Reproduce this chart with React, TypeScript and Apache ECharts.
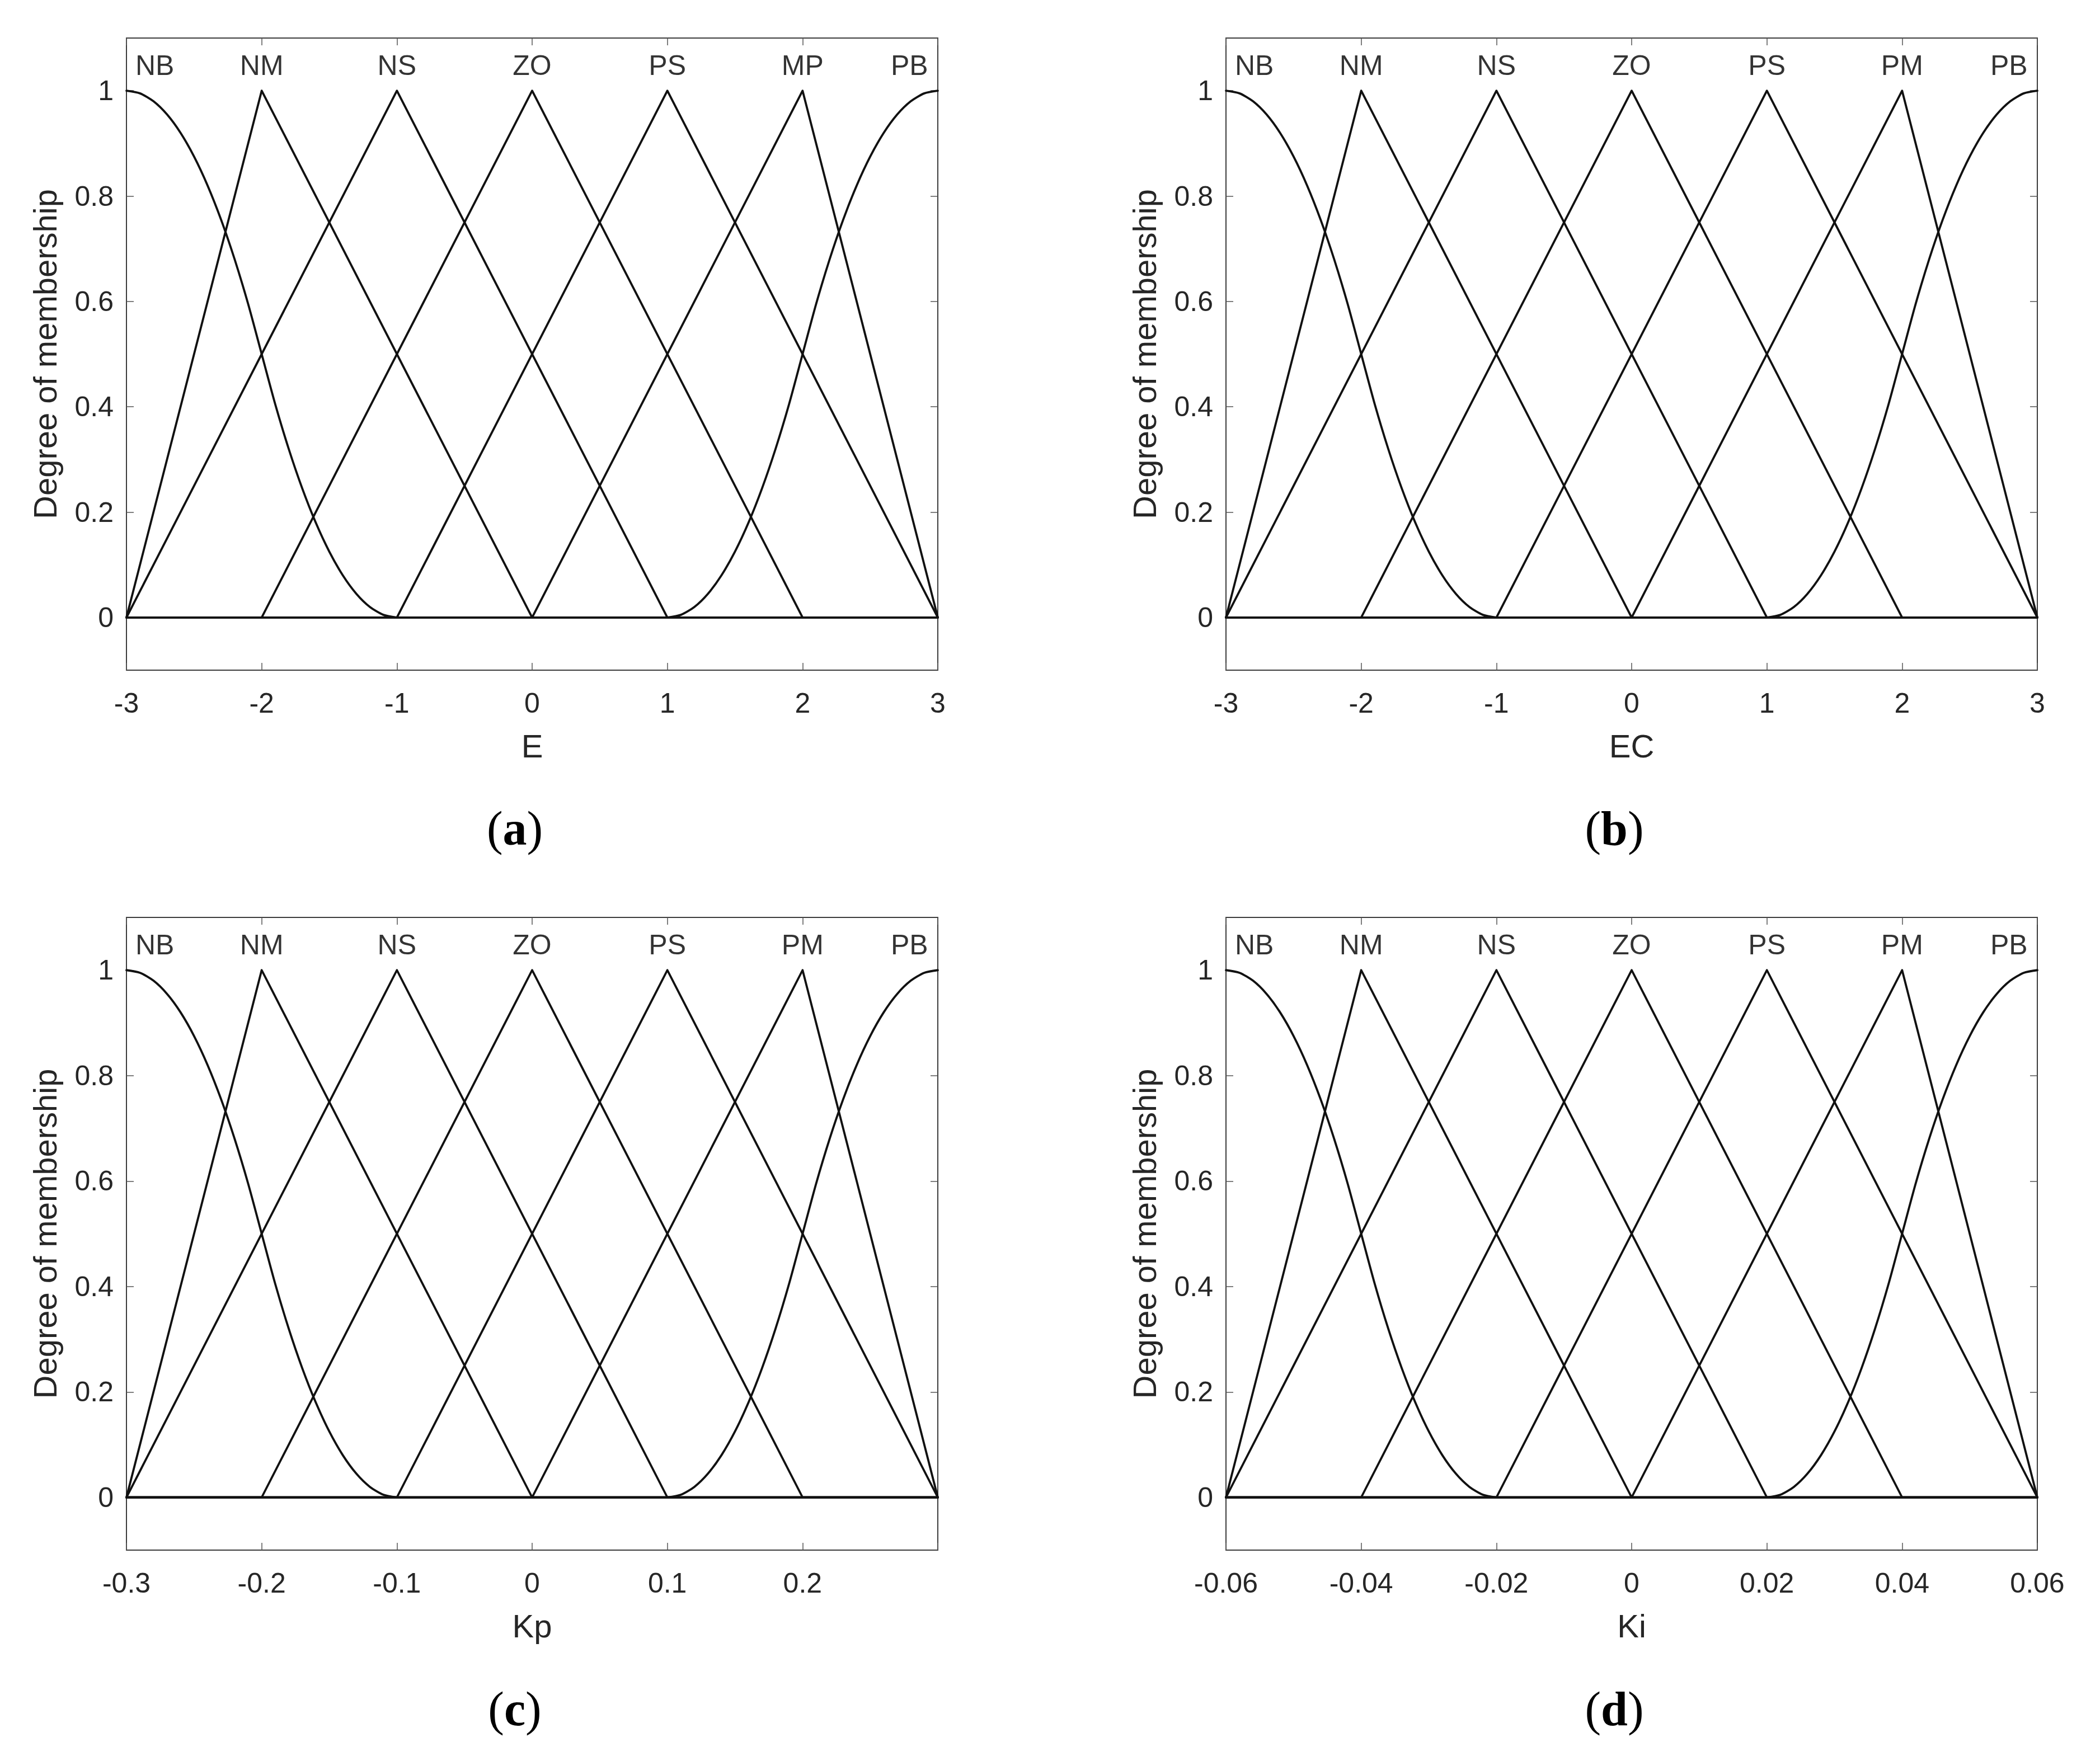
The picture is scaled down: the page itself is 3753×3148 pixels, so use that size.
import React, { useEffect, useRef } from "react";
import * as echarts from "echarts";

const W = 3753;
const H = 3148;

// ---- data (normalised universe [-3, 3]) ----
const mfLabelsA = ["NB", "NM", "NS", "ZO", "PS", "MP", "PB"];
const mfLabels = ["NB", "NM", "NS", "ZO", "PS", "PM", "PB"];
const mfLabelX = [-2.79, -2, -1, 0, 1, 2, 2.79];
const mfLabelY = 1.048;

const nbX = [-3, -2.9, -2.8, -2.7, -2.6, -2.5, -2.4, -2.3, -2.2, -2.1, -2, -1.9, -1.8, -1.7, -1.6, -1.5, -1.4, -1.3, -1.2, -1.1, -1];
const nbY = [1, 0.995, 0.98, 0.955, 0.92, 0.875, 0.82, 0.755, 0.68, 0.595, 0.5, 0.405, 0.32, 0.245, 0.18, 0.125, 0.08, 0.045, 0.02, 0.005, 0];
const nbTail = [[-1, 0], [3, 0]];
const pbX = [1, 1.1, 1.2, 1.3, 1.4, 1.5, 1.6, 1.7, 1.8, 1.9, 2, 2.1, 2.2, 2.3, 2.4, 2.5, 2.6, 2.7, 2.8, 2.9, 3];
const pbY = [0, 0.005, 0.02, 0.045, 0.08, 0.125, 0.18, 0.245, 0.32, 0.405, 0.5, 0.595, 0.68, 0.755, 0.82, 0.875, 0.92, 0.955, 0.98, 0.995, 1];
const pbHead = [[-3, 0], [1, 0]];
const nmPts = [[-3, 0], [-2, 1], [0, 0], [3, 0]];
const nsPts = [[-3, 0], [-1, 1], [1, 0], [3, 0]];
const zoPts = [[-3, 0], [-2, 0], [0, 1], [2, 0], [3, 0]];
const psPts = [[-3, 0], [-1, 0], [1, 1], [3, 0]];
const pmPts = [[-3, 0], [0, 0], [2, 1], [3, 0]];

const panelNames = ["E", "EC", "Kp", "Ki"];
const panelScale = [1, 1, 0.1, 0.02];
const panelMin = [-3, -3, -0.3, -0.06];
const panelMax = [3, 3, 0.3, 0.06];
const xTicksE = [-3, -2, -1, 0, 1, 2, 3];
const xLabelsE = ["-3", "-2", "-1", "0", "1", "2", "3"];
const xTicksKp = [-0.3, -0.2, -0.1, 0, 0.1, 0.2, 0.3];
const xLabelsKp = ["-0.3", "-0.2", "-0.1", "0", "0.1", "0.2"];
const xTicksKi = [-0.06, -0.04, -0.02, 0, 0.02, 0.04, 0.06];
const xLabelsKi = ["-0.06", "-0.04", "-0.02", "0", "0.02", "0.04", "0.06"];
const yTicks = [0, 0.2, 0.4, 0.6, 0.8, 1];
const yTickLabels = ["0", "0.2", "0.4", "0.6", "0.8", "1"];
const captions = ["a", "b", "c", "d"];

// ---- layout ----
const gridRects = [
  [226, 68, 1450, 1130],
  [2191, 68, 1450, 1130],
  [226, 1640, 1450, 1131],
  [2191, 1640, 1450, 1131],
];
const captionPos = [
  [920, 1481],
  [2885, 1481],
  [920, 3055],
  [2885, 3055],
];

const SANS = "'Liberation Sans', Arial, Helvetica, sans-serif";
const SERIF = "'Liberation Serif', 'Times New Roman', serif";
const TICK_FONT = 50;
const NAME_FONT = 58;
const LINE_COLOR = "#111";
const LINE_W = 3.8;
const TICK_STYLE = { color: "#555", width: 1.5 };

function lookup(vals: number[], labels: string[]) {
  return (v: number) => {
    for (let i = 0; i < vals.length; i++) {
      if (Math.abs(vals[i] - v) < 1e-9) return labels[i] ?? "";
    }
    return "";
  };
}

function buildOption() {
  const grid: any[] = [];
  const xAxis: any[] = [];
  const yAxis: any[] = [];
  const series: any[] = [];
  const graphic: any[] = [];

  const xTickSets = [xTicksE, xTicksE, xTicksKp, xTicksKi];
  const xLabelSets = [xLabelsE, xLabelsE, xLabelsKp, xLabelsKi];

  for (let p = 0; p < 4; p++) {
    const [l, t, w, h] = gridRects[p];
    grid.push({
      left: l,
      top: t,
      width: w,
      height: h,
      show: true,
      borderColor: "#3c3c3c",
      borderWidth: 2,
      backgroundColor: "#fff",
      containLabel: false,
    });
    const ticks = xTickSets[p];
    const labs = xLabelSets[p];
    const labelVals = ticks.slice(0, labs.length);
    xAxis.push({
      gridIndex: p,
      type: "value",
      position: "bottom",
      min: panelMin[p],
      max: panelMax[p],
      axisLine: { show: false, onZero: false },
      splitLine: { show: false },
      axisTick: { show: true, inside: true, length: 13, lineStyle: TICK_STYLE, customValues: ticks },
      axisLabel: {
        customValues: labelVals,
        formatter: lookup(ticks, labs),
        margin: 34,
        fontSize: TICK_FONT,
        lineHeight: TICK_FONT,
        color: "#262626",
        fontFamily: SANS,
      },
      name: panelNames[p],
      nameLocation: "middle",
      nameGap: 106,
      nameTextStyle: { fontSize: NAME_FONT, lineHeight: NAME_FONT, color: "#262626", fontFamily: SANS },
    });
    xAxis.push({
      gridIndex: p,
      type: "value",
      position: "top",
      min: panelMin[p],
      max: panelMax[p],
      axisLine: { show: false, onZero: false },
      splitLine: { show: false },
      axisTick: { show: true, inside: true, length: 13, lineStyle: TICK_STYLE, customValues: ticks },
      axisLabel: { show: false },
    });
    yAxis.push({
      gridIndex: p,
      type: "value",
      position: "left",
      min: -0.1,
      max: 1.1,
      axisLine: { show: false, onZero: false },
      splitLine: { show: false },
      axisTick: { show: true, inside: true, length: 13, lineStyle: TICK_STYLE, customValues: yTicks },
      axisLabel: {
        customValues: yTicks,
        formatter: lookup(yTicks, yTickLabels),
        margin: 23,
        fontSize: TICK_FONT,
        lineHeight: TICK_FONT,
        color: "#262626",
        fontFamily: SANS,
      },
      name: "Degree of membership",
      nameLocation: "middle",
      nameGap: 117,
      nameRotate: 90,
      nameTextStyle: { fontSize: NAME_FONT, lineHeight: NAME_FONT, color: "#262626", fontFamily: SANS },
    });
    yAxis.push({
      gridIndex: p,
      type: "value",
      position: "right",
      min: -0.1,
      max: 1.1,
      axisLine: { show: false, onZero: false },
      splitLine: { show: false },
      axisTick: { show: true, inside: true, length: 13, lineStyle: TICK_STYLE, customValues: yTicks },
      axisLabel: { show: false },
    });

    const s = panelScale[p];
    const xi = 2 * p;
    const yi = 2 * p;
    const sc = (pts: number[][]) => pts.map(([x, y]) => [x * s, y]);
    const base = {
      type: "line",
      xAxisIndex: xi,
      yAxisIndex: yi,
      symbol: "none",
      showSymbol: false,
      silent: true,
      lineStyle: { color: LINE_COLOR, width: LINE_W, join: "round", cap: "round" },
      z: 3,
    };
    series.push({ ...base, smooth: 0.25, data: nbX.map((x, i) => [x * s, nbY[i]]) });
    series.push({ ...base, data: sc(nbTail) });
    series.push({ ...base, data: sc(nmPts) });
    series.push({ ...base, data: sc(nsPts) });
    series.push({ ...base, data: sc(zoPts) });
    series.push({ ...base, data: sc(psPts) });
    series.push({ ...base, data: sc(pmPts) });
    series.push({ ...base, data: sc(pbHead) });
    series.push({ ...base, smooth: 0.25, data: pbX.map((x, i) => [x * s, pbY[i]]) });

    const names = p === 0 ? mfLabelsA : mfLabels;
    series.push({
      type: "scatter",
      xAxisIndex: xi,
      yAxisIndex: yi,
      silent: true,
      symbol: "circle",
      symbolSize: 1,
      itemStyle: { color: "rgba(0,0,0,0)" },
      z: 4,
      label: {
        show: true,
        position: "inside",
        formatter: "{b}",
        fontSize: TICK_FONT,
        color: "#000",
        fontFamily: SANS,
      },
      data: names.map((n, k) => ({ name: n, value: [mfLabelX[k] * s, mfLabelY] })),
    });

    const [cx, cy] = captionPos[p];
    graphic.push({
      type: "text",
      x: cx,
      y: cy,
      silent: true,
      style: {
        text: "{n|(}{b|" + captions[p] + "}{n|)}",
        align: "center",
        verticalAlign: "middle",
        rich: {
          n: { fontFamily: SERIF, fontSize: 86, fill: "#000" },
          b: { fontFamily: SERIF, fontSize: 86, fontWeight: "bold", fill: "#000" },
        },
      },
    });
  }

  return {
    animation: false,
    backgroundColor: "#fff",
    grid,
    xAxis,
    yAxis,
    series,
    graphic,
  };
}

export default function App() {
  const ref = useRef<HTMLDivElement>(null);
  useEffect(() => {
    if (!ref.current) return;
    const chart = echarts.init(ref.current, undefined, { renderer: "svg", width: W, height: H });
    chart.setOption(buildOption() as any);
    return () => chart.dispose();
  }, []);
  return (
    <div
      ref={ref}
      style={{ position: "absolute", left: 0, top: 0, width: W, height: H, background: "#fff" }}
    />
  );
}
